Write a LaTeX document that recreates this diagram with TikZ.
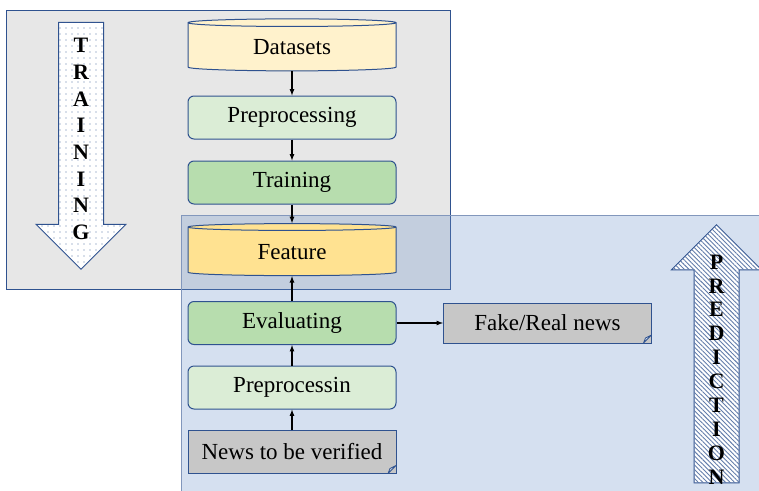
\documentclass[tikz,border=0pt]{standalone}
\usepackage{fontspec}
\setmainfont{Liberation Serif}
\usepackage{tikz}
\usetikzlibrary{shapes,arrows,patterns.meta}
\definecolor{edgecolor}{RGB}{47,82,143}
\definecolor{boxgray}{RGB}{231,231,231}
\definecolor{boxblue}{RGB}{105,144,201}
\definecolor{datayellow}{RGB}{255,242,204}
\definecolor{featyellow}{RGB}{255,226,145}
\definecolor{prepgreen}{RGB}{219,237,214}
\definecolor{traingreen}{RGB}{183,221,174}
\definecolor{papergray}{RGB}{199,199,199}

\begin{document}
\begin{tikzpicture}[x=1pt,y=-1pt,
	block/.style={
		node distance = 65pt,
		rectangle,
		rounded corners=6pt,
		draw=edgecolor,
		line width=1pt,
		minimum width=208pt,
		minimum height=43pt,
		font=\fontsize{23}{27}\selectfont},
	store/.style={
		cylinder,
		shape border rotate=90,
		aspect=0.09,
		draw=edgecolor,
		line width=1pt,
		minimum width=208pt,
		minimum height=52pt,
		font=\fontsize{23}{27}\selectfont},
	paper/.style={
		rectangle,
		draw=edgecolor,
		line width=1pt,
		fill=papergray,
		minimum width=208pt,
		minimum height=43pt,
		font=\fontsize{23}{27}\selectfont,
		path picture={
			\filldraw[fill=boxblue!30, draw=edgecolor, line width=0.8pt]
			([xshift=-8pt]path picture bounding box.south east) --
			([xshift=-6pt,yshift=5pt]path picture bounding box.south east) --
			([yshift=8pt]path picture bounding box.south east) -- cycle;}},
	bigarrow/.style={
		single arrow,
		draw=edgecolor,
		line width=1pt,
		fill=white,
		inner xsep=22pt,
		inner ysep=0pt,
		single arrow head extend=22.5pt},
	letters/.style={
		align=center,
		font=\fontsize{22}{26.7}\selectfont\bfseries},
	line/.style={
	draw,
	-latex,
	line width=1.2pt}]

    \useasboundingbox (0,0) rectangle (759,490);
    % Background boxes
    \filldraw[fill=boxgray, draw=edgecolor, line width=1pt] (6,10) rectangle (450,289);
    \node [bigarrow, shape border rotate=270, minimum height=247pt,
      postaction={pattern={Dots[distance=6pt,radius=0.6pt]}, pattern color=edgecolor!80}]
      (trainarrow) at (81,134.5) {};
    \node [letters] (trainlabel) at (81,139) {T\\R\\A\\I\\N\\I\\N\\G};
    \filldraw[fill=boxblue, fill opacity=0.28, draw=edgecolor!60, line width=1pt] (181,215) rectangle (765,495);
    \node [bigarrow, shape border rotate=90, minimum height=258pt,
      postaction={pattern={Lines[angle=-45,distance=3.2pt,line width=0.9pt]}, pattern color=edgecolor!75}]
      (predarrow) at (716.5,365) {};
    \node [letters, font=\fontsize{22}{23.9}\selectfont\bfseries] (predlabel) at (716.5,369.5) {P\\R\\E\\D\\I\\C\\T\\I\\O\\N};

    % Place nodes
    \node [store, fill=datayellow] (datasets) at (292,47.5) {Datasets};
    \node [block, fill=prepgreen, below of=datasets, node distance=70pt] (preproc) {Preprocessing};
    \node [block, fill=traingreen, below of=preproc] (training) {Training};
    \node [store, fill=featyellow, below of=training, node distance=69.5pt] (feature) {Feature};
    \node [block, fill=traingreen, below of=feature, node distance=71pt] (evaluate) {Evaluating};
    \node [block, fill=prepgreen, below of=evaluate, node distance=64.5pt] (preprocnew) {Preprocessin};
    \node [paper, below of=preprocnew, node distance=64.5pt] (newsin) {News to be verified};
    \node [paper, right of=evaluate, node distance=255.5pt, minimum height=40pt] (fakereal) {Fake/Real news};
    % Draw edges
    \path [line] (datasets) -- (preproc);
    \path [line] (preproc) -- (training);
    \path [line] (training) -- (feature);
    \path [line] (evaluate) -- (feature);
    \path [line] (preprocnew) -- (evaluate);
    \path [line] (newsin) -- (preprocnew);
    \path [line] (evaluate) -- (fakereal);
\end{tikzpicture}
\end{document}
